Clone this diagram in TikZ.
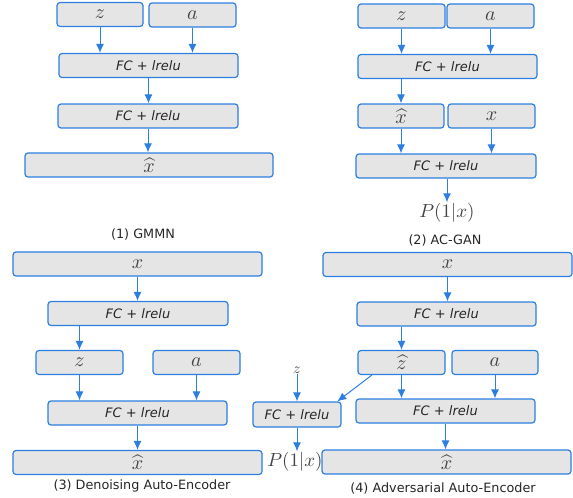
\documentclass[tikz,border=0pt]{standalone}
\usepackage{amsmath,amssymb}
\usepackage{fontspec}
\setsansfont{DejaVu Sans}
\usepackage{tikz}
\usetikzlibrary{arrows.meta,positioning}
\definecolor{lineblue}{HTML}{2C7FE0}
\definecolor{boxgray}{HTML}{E5E5E5}
\definecolor{mathgray}{HTML}{444444}
\newcommand{\mtxt}[2][2.0]{\scalebox{#1}{$#2$}}
\tikzset{
  blk/.style={draw=lineblue, line width=1.2pt, fill=boxgray, rounded corners=3pt,
    minimum height=24pt, inner sep=0pt, text=mathgray},
  fcblk/.style={blk, font=\sffamily\itshape\fontsize{13}{15}\selectfont, text=black!85},
  lbl/.style={inner sep=1pt, text=mathgray},
  captxt/.style={font=\sffamily\fontsize{12.8}{15}\selectfont, text=black!85},
  flow/.style={draw=lineblue, line width=1pt, -{Latex[length=9pt,width=8pt]}}
}
\begin{document}
\begin{tikzpicture}[x=1pt,y=-1pt]
\useasboundingbox (0,0) rectangle (573,498);
% (1) GMMN
\node[blk,minimum width=86pt] (z1) at (100,14.5) {\mtxt{z}};
\node[blk,minimum width=87pt] (a1) at (192.5,15) {\mtxt{a}};
\node[fcblk,minimum width=179pt] (fc1a) at (148.5,65.5) {FC + lrelu};
\node[fcblk,minimum width=180pt] (fc1b) at (148,116) {FC + lrelu};
\node[blk,minimum width=248pt] (xh1) at (149,165) {\mtxt{\widehat{x}}};
\node[captxt] (cap1) at (143,234) {(1) GMMN};
\draw[flow] (z1.south) -- (z1.south |- fc1a.north);
\draw[flow] (a1.south) -- (a1.south |- fc1a.north);
\draw[flow] (fc1a.south) -- (fc1a.south |- fc1b.north);
\draw[flow] (fc1b.south) -- (fc1b.south |- xh1.north);
% (2) AC-GAN
\node[blk,minimum width=87pt] (z2) at (401.5,16) {\mtxt{z}};
\node[blk,minimum width=87pt] (a2) at (490.5,16) {\mtxt{a}};
\node[fcblk,minimum width=179pt] (fc2a) at (447.5,66.5) {FC + lrelu};
\node[blk,minimum width=86pt] (xh2) at (401,116) {\mtxt{\widehat{x}}};
\node[blk,minimum width=87pt] (x2) at (491.5,116) {\mtxt{x}};
\node[fcblk,minimum width=180pt] (fc2b) at (446,166) {FC + lrelu};
\node[lbl] (p2) at (447,213) {\mtxt[1.9]{P(1|x)}};
\node[captxt] (cap2) at (445,240) {(2) AC-GAN};
\draw[flow] (z2.south) -- (z2.south |- fc2a.north);
\draw[flow] (a2.south) -- (a2.south |- fc2a.north);
\draw[flow] (fc2a.south -| xh2) -- (xh2.north);
\draw[flow] (xh2.south) -- (xh2.south |- fc2b.north);
\draw[flow] (x2.south) -- (x2.south |- fc2b.north);
\draw[flow] (fc2b.south -| p2) -- (p2.north);
% (3) Denoising Auto-Encoder
\node[blk,minimum width=249pt] (x3) at (137.5,264) {\mtxt{x}};
\node[fcblk,minimum width=180pt] (fc3a) at (138,313.5) {FC + lrelu};
\node[blk,minimum width=87pt] (z3) at (79.5,362.5) {\mtxt{z}};
\node[blk,minimum width=87pt] (a3) at (196.5,362.5) {\mtxt{a}};
\node[fcblk,minimum width=179pt] (fc3b) at (137.5,413) {FC + lrelu};
\node[blk,minimum width=249pt] (xh3) at (137.5,462.5) {\mtxt{\widehat{x}}};
\node[captxt] (cap3) at (142,486) {(3) Denoising Auto-Encoder};
\draw[flow] (x3.south) -- (x3.south |- fc3a.north);
\draw[flow] (fc3a.south -| z3) -- (z3.north);
\draw[flow] (z3.south) -- (z3.south |- fc3b.north);
\draw[flow] (a3.south) -- (a3.south |- fc3b.north);
\draw[flow] (fc3b.south) -- (fc3b.south |- xh3.north);
% (4) Adversarial Auto-Encoder
\node[blk,minimum width=249pt] (x4) at (447.5,264.5) {\mtxt{x}};
\node[fcblk,minimum width=179pt] (fc4a) at (446.5,314) {FC + lrelu};
\node[blk,minimum width=87pt] (zh4) at (401.5,362.5) {\mtxt{\widehat{z}}};
\node[blk,minimum width=86pt] (a4) at (495,362.5) {\mtxt{a}};
\node[lbl] (z4) at (297,370) {\mtxt[1.5]{z}};
\node[fcblk,minimum width=88pt,minimum height=25pt] (fc4s) at (297,414.5) {FC + lrelu};
\node[fcblk,minimum width=179pt] (fc4b) at (445.5,411) {FC + lrelu};
\node[lbl] (p4) at (295,462) {\mtxt[1.9]{P(1|x)}};
\node[blk,minimum width=249pt] (xh4) at (446.5,462) {\mtxt{\widehat{x}}};
\node[captxt] (cap4) at (443,488) {(4) Adversarial Auto-Encoder};
\draw[flow] (x4.south) -- (x4.south |- fc4a.north);
\draw[flow] (fc4a.south -| zh4) -- (zh4.north);
\draw[flow] (zh4.south) -- (zh4.south |- fc4b.north);
\draw[flow] (a4.south) -- (a4.south |- fc4b.north);
\draw[flow] (zh4.203) -- (fc4s.18);
\draw[flow] (z4.south) -- (z4.south |- fc4s.north);
\draw[flow] (fc4s.south) -- (fc4s.south |- p4.north);
\draw[flow] (fc4b.south) -- (fc4b.south |- xh4.north);
\end{tikzpicture}
\end{document}
